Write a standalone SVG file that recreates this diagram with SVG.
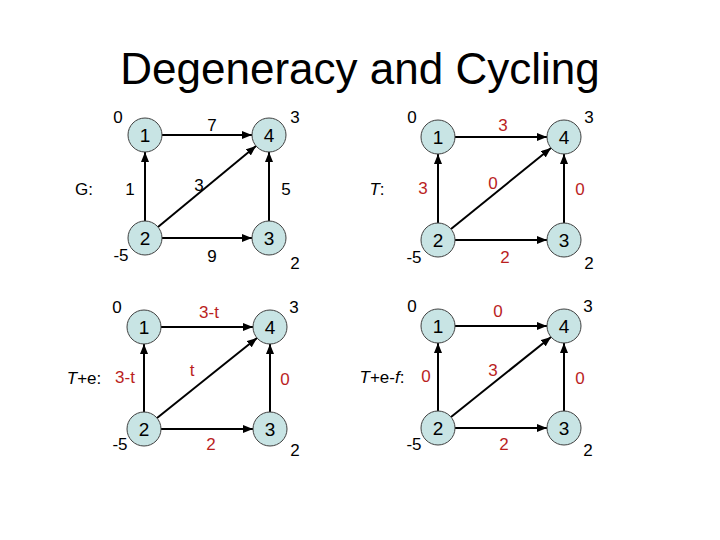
<svg xmlns="http://www.w3.org/2000/svg" width="720" height="540" viewBox="0 0 720 540">
<style>
text{font-family:"Liberation Sans",Arial,sans-serif;fill:#000}
.title{font-size:44px;text-anchor:middle}
.nd{fill:#C8E4E4;stroke:#404040;stroke-width:1}
.nl{font-size:19px;text-anchor:middle}
.lb{font-size:17px;text-anchor:middle}
.r{fill:#BA1E1E}
.ed{stroke:#000;stroke-width:2;fill:none;marker-end:url(#ah)}
.it{font-style:italic}
</style>
<defs>
<marker id="ah" markerUnits="userSpaceOnUse" markerWidth="10" markerHeight="8" refX="10" refY="4" orient="auto">
<path d="M0,0 L10,4 L0,8 z" fill="#000"/>
</marker>
</defs>
<rect width="720" height="540" fill="#fff"/>
<text class="title" x="360" y="84">Degeneracy and Cycling</text>

<g id="connectors">
<line class="ed" x1="162" y1="135" x2="252" y2="135"/>
<line class="ed" x1="145" y1="221" x2="145" y2="152"/>
<line class="ed" x1="158" y1="227" x2="256" y2="146"/>
<line class="ed" x1="162" y1="238" x2="252" y2="238"/>
<line class="ed" x1="269" y1="221" x2="269" y2="152"/>

<line class="ed" x1="455" y1="137" x2="547" y2="137"/>
<line class="ed" x1="438" y1="223" x2="438" y2="154"/>
<line class="ed" x1="451" y1="229" x2="551" y2="148"/>
<line class="ed" x1="455" y1="240" x2="547" y2="240"/>
<line class="ed" x1="564" y1="223" x2="564" y2="154"/>

<line class="ed" x1="161" y1="327" x2="253" y2="327"/>
<line class="ed" x1="144" y1="412" x2="144" y2="344"/>
<line class="ed" x1="157" y1="418" x2="257" y2="338"/>
<line class="ed" x1="161" y1="429" x2="253" y2="429"/>
<line class="ed" x1="270" y1="412" x2="270" y2="344"/>

<line class="ed" x1="455" y1="326" x2="547" y2="326"/>
<line class="ed" x1="438" y1="411" x2="438" y2="343"/>
<line class="ed" x1="451" y1="417" x2="551" y2="337"/>
<line class="ed" x1="455" y1="428" x2="547" y2="428"/>
<line class="ed" x1="564" y1="411" x2="564" y2="343"/>
</g>

<g id="panel-G">
<g id="g-n1"><circle class="nd" cx="145" cy="135" r="17"/><text class="nl" x="145" y="142">1</text></g>
<g id="g-n4"><circle class="nd" cx="269" cy="135" r="17"/><text class="nl" x="269" y="142">4</text></g>
<g id="g-n2"><circle class="nd" cx="145" cy="238" r="17"/><text class="nl" x="145" y="245">2</text></g>
<g id="g-n3"><circle class="nd" cx="269" cy="238" r="17"/><text class="nl" x="269" y="245">3</text></g>
<text class="lb" x="118" y="123">0</text>
<text class="lb" x="295" y="123">3</text>
<text class="lb" x="121" y="261">-5</text>
<text class="lb" x="295" y="269">2</text>
<text class="lb" x="212" y="131">7</text>
<text class="lb" x="84" y="195">G:</text>
<text class="lb" x="130" y="195">1</text>
<text class="lb" x="199" y="191">3</text>
<text class="lb" x="286" y="195">5</text>
<text class="lb" x="212" y="262">9</text>
</g>

<g id="panel-T">
<g id="t-n1"><circle class="nd" cx="438" cy="137" r="17"/><text class="nl" x="438" y="144">1</text></g>
<g id="t-n4"><circle class="nd" cx="564" cy="137" r="17"/><text class="nl" x="564" y="144">4</text></g>
<g id="t-n2"><circle class="nd" cx="438" cy="240" r="17"/><text class="nl" x="438" y="247">2</text></g>
<g id="t-n3"><circle class="nd" cx="564" cy="240" r="17"/><text class="nl" x="564" y="247">3</text></g>
<text class="lb" x="412" y="123">0</text>
<text class="lb" x="589" y="123">3</text>
<text class="lb" x="414" y="263">-5</text>
<text class="lb" x="589" y="269">2</text>
<text class="lb r" x="503" y="131">3</text>
<text class="lb" x="377" y="195"><tspan class="it">T</tspan>:</text>
<text class="lb r" x="423" y="194">3</text>
<text class="lb r" x="493" y="189">0</text>
<text class="lb r" x="580" y="195">0</text>
<text class="lb r" x="505" y="263">2</text>
</g>

<g id="panel-Te">
<g id="te-n1"><circle class="nd" cx="144" cy="327" r="17"/><text class="nl" x="144" y="334">1</text></g>
<g id="te-n4"><circle class="nd" cx="270" cy="327" r="17"/><text class="nl" x="270" y="334">4</text></g>
<g id="te-n2"><circle class="nd" cx="144" cy="429" r="17"/><text class="nl" x="144" y="436">2</text></g>
<g id="te-n3"><circle class="nd" cx="270" cy="429" r="17"/><text class="nl" x="270" y="436">3</text></g>
<text class="lb" x="117" y="313">0</text>
<text class="lb" x="294" y="313">3</text>
<text class="lb" x="120" y="450">-5</text>
<text class="lb" x="295" y="456">2</text>
<text class="lb r" x="209" y="318">3-t</text>
<text class="lb" x="84" y="384"><tspan class="it">T</tspan>+e:</text>
<text class="lb r" x="125" y="383">3-t</text>
<text class="lb r" x="192" y="376">t</text>
<text class="lb r" x="285" y="385">0</text>
<text class="lb r" x="211" y="450">2</text>
</g>

<g id="panel-Tef">
<g id="tef-n1"><circle class="nd" cx="438" cy="326" r="17"/><text class="nl" x="438" y="333">1</text></g>
<g id="tef-n4"><circle class="nd" cx="564" cy="326" r="17"/><text class="nl" x="564" y="333">4</text></g>
<g id="tef-n2"><circle class="nd" cx="438" cy="428" r="17"/><text class="nl" x="438" y="435">2</text></g>
<g id="tef-n3"><circle class="nd" cx="564" cy="428" r="17"/><text class="nl" x="564" y="435">3</text></g>
<text class="lb" x="412" y="312">0</text>
<text class="lb" x="588" y="312">3</text>
<text class="lb" x="414" y="450">-5</text>
<text class="lb" x="588" y="456">2</text>
<text class="lb r" x="498" y="317">0</text>
<text class="lb" x="382" y="383"><tspan class="it">T</tspan>+e-<tspan class="it">f</tspan>:</text>
<text class="lb r" x="426" y="382">0</text>
<text class="lb r" x="493" y="376">3</text>
<text class="lb r" x="580" y="384">0</text>
<text class="lb r" x="504" y="450">2</text>
</g>
</svg>
